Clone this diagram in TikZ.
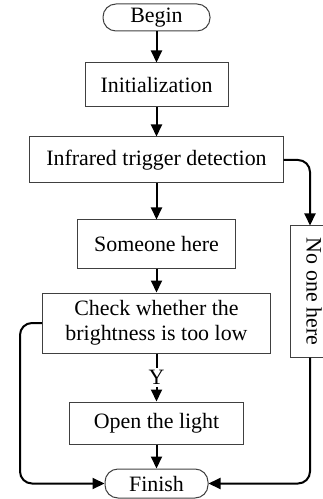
\documentclass[tikz,border=0pt]{standalone}
\usepackage{fontspec}
\setmainfont{Liberation Serif}
\usetikzlibrary{arrows.meta}

\tikzset{
  box/.style={draw=black!75, line width=0.5bp, inner sep=0pt, align=center},
  term/.style={box, rounded corners=6.5bp},
  flow/.style={-{Triangle[width=5.5bp,length=6bp]}, line width=1bp},
}

\begin{document}
\begin{tikzpicture}[x=0.5bp, y=-0.5bp, font=\fontsize{11}{12.5}\selectfont]
\useasboundingbox (0,0) rectangle (322,499);

% main column
\node[term, minimum width=53.5bp, minimum height=13.5bp] (begin) at (156.5,17.5) {Begin};
\node[box, minimum width=71.5bp, minimum height=22bp] (init) at (156.5,85) {Initialization};
\node[box, minimum width=126.5bp, minimum height=23bp] (infra) at (156.5,160) {Infrared trigger detection};
\node[box, minimum width=79bp, minimum height=24bp] (someone) at (156.5,244) {Someone here};
\node[box, minimum width=114bp, minimum height=30bp] (check) at (156.5,323) {Check whether the\\brightness is too low};
\node[box, minimum width=87bp, minimum height=21bp] (open) at (156.5,423) {Open the light};
\node[term, minimum width=51.5bp, minimum height=14.5bp] (finish) at (156.5,483.5) {Finish};

% side branch
\node[box, rotate=-90, minimum width=65.5bp, minimum height=24bp] (noone) at (314,291.5) {No one here};
\coordinate (ntop) at ([xshift=-2bp]noone.west);
\coordinate (nbot) at ([xshift=-2bp]noone.east);
\coordinate (lbend) at (20,323);

\draw[flow] (begin.south) -- (init.north);
\draw[flow] (init.south) -- (infra.north);
\draw[flow] (infra.south) -- (someone.north);
\draw[flow] (someone.south) -- (check.north);
\draw[flow] (check.south) -- node[fill=white, inner sep=1bp] {Y} (open.north);
\draw[flow] (open.south) -- (finish.north);

\draw[flow, rounded corners=6bp] (infra.east) -| (ntop);
\draw[flow, rounded corners=6bp] (nbot) |- (finish.east);
\draw[flow, rounded corners=6bp] (check.west) -- (lbend) |- (finish.west);
\end{tikzpicture}
\end{document}
